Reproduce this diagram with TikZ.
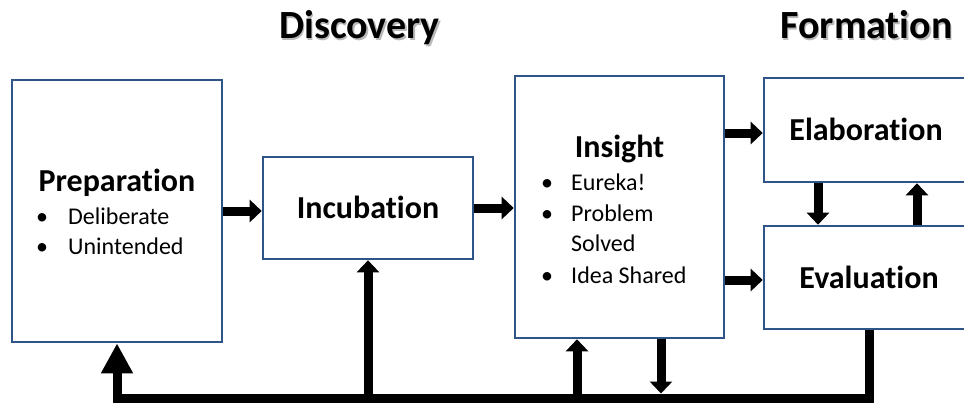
\documentclass[tikz,border=0pt]{standalone}
\usepackage{fontspec}
\setmainfont{Carlito}[Ligatures={NoCommon}]
\usetikzlibrary{arrows.meta}
\definecolor{boxblue}{RGB}{47,84,135}
\definecolor{shadowgray}{RGB}{185,185,185}
\tikzset{
  box/.style={draw=boxblue, line width=2.6pt, inner sep=0pt, fill=white},
  arr/.style={line width=9pt, -{Triangle[length=12pt,width=22pt]}},
  bigarr/.style={line width=9pt, line join=miter, -{Triangle[length=30pt,width=30pt]}},
  ttl/.style={font=\fontsize{40}{46}\selectfont\bfseries, anchor=base, inner sep=0pt},
  ttlshadow/.style={ttl, text=shadowgray},
  head/.style={font=\fontsize{32}{38}\selectfont\bfseries, anchor=base, inner sep=0pt},
  body/.style={font=\fontsize{24}{30}\selectfont, anchor=base west, inner sep=0pt},
  bul/.style={font=\fontsize{24}{30}\selectfont, anchor=base, inner sep=0pt}
}
\begin{document}
\begin{tikzpicture}[x=1pt, y=-1pt]
\useasboundingbox (0,0) rectangle (964,402);
\clip (0,0) rectangle (964,402);
% titles
\node[ttlshadow] (dshadow) at (361,40) {Discovery};
\node[ttl] (dtitle) at (359.5,38.5) {Discovery};
\node[ttlshadow] (fshadow) at (868,40) {Formation};
\node[ttl] (ftitle) at (866.5,38.5) {Formation};
% boxes
\node[box, minimum width=210pt, minimum height=262pt] (prep) at (117,211) {};
\node[box, minimum width=210pt, minimum height=102pt] (inc) at (368,208) {};
\node[box, minimum width=209pt, minimum height=262pt] (ins) at (619.5,207) {};
\node[box, minimum width=204pt, minimum height=104pt] (ela) at (866,130) {};
\node[box, minimum width=204pt, minimum height=103pt] (eva) at (866,277.5) {};
% texts
\node[head] (preptitle) at (117,191) {Preparation};
\node[bul] (pb1) at (42,224) {•};
\node[body] (pt1) at (68,224) {Deliberate};
\node[bul] (pb2) at (42,254) {•};
\node[body] (pt2) at (68,254) {Unintended};
\node[head] (inctitle) at (368,218) {Incubation};
\node[head] (institle) at (619.5,157) {Insight};
\node[bul] (ib1) at (547,190) {•};
\node[body] (it1) at (571,190) {Eureka!};
\node[bul] (ib2) at (547,221) {•};
\node[body] (it2) at (571,221) {Problem};
\node[body] (it3) at (571,251) {Solved};
\node[bul] (ib4) at (547,283) {•};
\node[body] (it4) at (571,283) {Idea Shared};
\node[head] (elatitle) at (866,140) {Elaboration};
\node[head] (evatitle) at (869,288) {Evaluation};
% connectors
\coordinate (bot) at (0,398);
\coordinate (bottop) at (0,393.5);
\draw[arr] (prep.east) -- (prep.east -| inc.west);
\draw[arr] (inc.east) -- (inc.east -| ins.west);
\draw[arr] ([yshift=-3pt]ela.west -| ins.east) -- ([yshift=-3pt]ela.west);
\draw[arr] ([yshift=-2.5pt]eva.west -| ins.east) -- ([yshift=-2.5pt]eva.west);
\draw[arr] ([xshift=-48pt]ela.south) -- ([xshift=-48pt]eva.north);
\draw[arr] ([xshift=51pt]eva.north) -- ([xshift=51pt]ela.south);
\draw[bigarr] ([xshift=3pt]eva.south) |- (bot -| prep.south) -- (prep.south);
\draw[arr] (bot -| inc.south) -- (inc.south);
\draw[arr] ([xshift=-42.5pt]bot -| ins.south) -- ([xshift=-42.5pt]ins.south);
\draw[arr] ([xshift=41.5pt]ins.south) -- ([xshift=41.5pt]bottop -| ins.south);
\end{tikzpicture}
\end{document}
